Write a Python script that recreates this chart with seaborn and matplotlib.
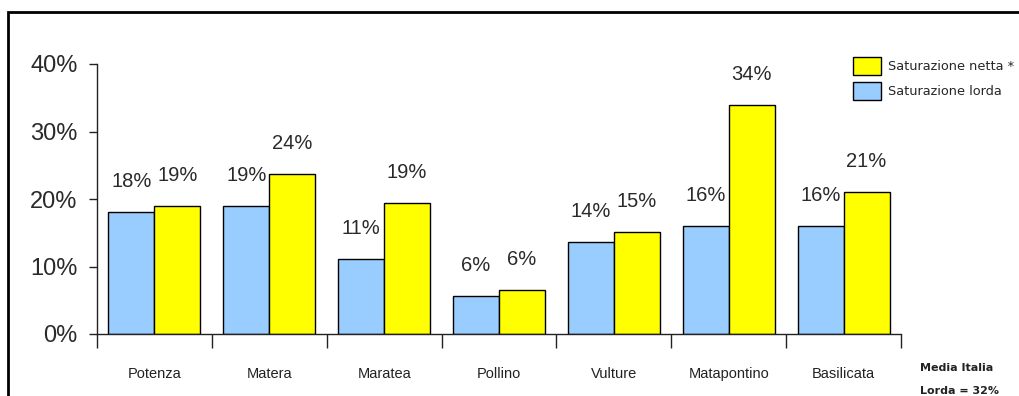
import matplotlib
matplotlib.use("Agg")
import matplotlib.pyplot as plt
from matplotlib.patches import Rectangle, Patch
from matplotlib.ticker import PercentFormatter, FixedLocator
import seaborn as sns
import pandas as pd

# Area names
aree = ["Potenza", "Matera", "Maratea", "Pollino", "Vulture", "Matapontino", "Basilicata"]
# Gross and net saturation (share)
sat_lorda = [0.181, 0.190, 0.111, 0.056, 0.136, 0.160, 0.160]
sat_netta = [0.190, 0.237, 0.194, 0.065, 0.151, 0.339, 0.210]
serie = ["Saturazione lorda", "Saturazione netta *"]
colori = {"Saturazione lorda": "#99CCFF", "Saturazione netta *": "#FFFF00"}
y_ticks = [0.0, 0.1, 0.2, 0.3, 0.4]

df = pd.DataFrame({
    "area": aree * 2,
    "valore": sat_lorda + sat_netta,
    "serie": [serie[0]] * len(aree) + [serie[1]] * len(aree),
})

sns.set_theme(style="white")
plt.rcParams["font.family"] = ["Liberation Sans", "DejaVu Sans"]

fig = plt.figure(figsize=(10.2, 3.96), dpi=100)
ax = fig.add_axes([97 / 1020, 1 - 334 / 396, (901 - 97) / 1020, (334 - 64) / 396])

sns.barplot(data=df, x="area", y="valore", hue="serie", hue_order=serie,
            palette=colori, edgecolor="black", linewidth=1.0, width=0.8,
            saturation=1, legend=False, ax=ax)

for cont in ax.containers:
    ax.bar_label(cont, labels=[f"{b.get_height():.0%}" for b in cont],
                 padding=15, fontsize=14.5, color="#2a2a2a")

ax.set_ylim(0, 0.4)
ax.set_xlim(-0.5, len(aree) - 0.5)
ax.yaxis.set_major_locator(FixedLocator(y_ticks))
ax.yaxis.set_major_formatter(PercentFormatter(1.0, decimals=0))
ax.set_xlabel("")
ax.set_ylabel("")

for s in ("top", "right"):
    ax.spines[s].set_visible(False)
for s in ("left", "bottom"):
    ax.spines[s].set_color("#222222")
    ax.spines[s].set_linewidth(1.0)

ax.tick_params(axis="y", which="major", left=True, length=6, width=1,
               color="#222222", labelsize=17, labelcolor="#2a2a2a", pad=8)
ax.tick_params(axis="x", which="major", bottom=False, length=0,
               labelsize=10.5, labelcolor="#222222", pad=24)
ax.set_xticks([i - 0.5 for i in range(len(aree) + 1)], minor=True)
ax.tick_params(axis="x", which="minor", bottom=True, length=10, width=1,
               color="#222222", direction="out")

# Legend, net first
handles = [Patch(facecolor=colori[serie[1]], edgecolor="black", label=serie[1]),
           Patch(facecolor=colori[serie[0]], edgecolor="black", label=serie[0])]
fig.legend(handles=handles, loc="upper left", bbox_to_anchor=(853 / 1020, 1 - 57 / 396),
           frameon=False, prop={"family": "DejaVu Sans", "size": 9.3},
           handlelength=2.2, handleheight=1.75, handletextpad=0.5, labelspacing=0.55,
           borderaxespad=0, borderpad=0)

fig.text(920 / 1020, 1 - 368 / 396, "Media Italia", fontsize=8, fontweight="bold",
         family="DejaVu Sans", va="center", ha="left", color="#222222")
fig.text(920 / 1020, 1 - 391 / 396, "Lorda = 32%", fontsize=8, fontweight="bold",
         family="DejaVu Sans", va="center", ha="left", color="#222222")

# Outer frame
fig.patches.append(Rectangle((8 / 1020, -0.1), 1.2, 1 - 12 / 396 + 0.1,
                             transform=fig.transFigure, fill=False,
                             edgecolor="black", linewidth=2))

fig.savefig("out.png", dpi=100)
